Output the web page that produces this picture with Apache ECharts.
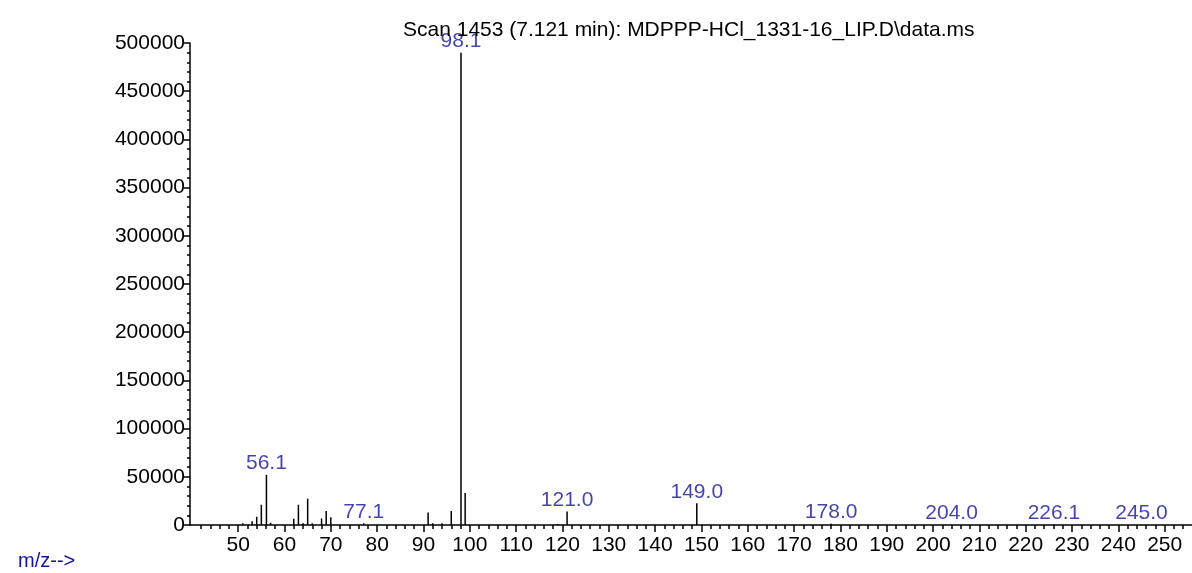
<!DOCTYPE html>
<html>
<head>
<meta charset="utf-8">
<script src="https://cdn.jsdelivr.net/npm/echarts@6/dist/echarts.min.js"></script>
<style>
html,body{margin:0;padding:0;background:#fff;}
#main{width:1192px;height:573px;}
</style>
</head>
<body>
<div id="main"></div>
<script>
// m/z of each peak and its abundance
const mzValues = [51, 53, 54, 55, 56.1, 57, 62, 63, 64, 65, 66, 68, 69, 70, 77.1, 91, 92, 94, 96, 98.1, 99, 119, 121.0, 149.0, 178.0, 204.0, 226.1, 245.0];
const abundance = [1700, 3800, 8500, 21000, 52000, 2400, 6500, 21000, 1800, 27300, 1800, 6800, 14600, 8000, 1800, 12900, 1800, 1800, 14600, 490000, 33100, 1000, 13900, 22600, 1200, 400, 400, 400];
// peaks carrying an m/z annotation
const labelledMz = [56.1, 77.1, 98.1, 121.0, 149.0, 178.0, 204.0, 226.1, 245.0];
// axis tick labels
const xTickLabels = [50, 60, 70, 80, 90, 100, 110, 120, 130, 140, 150, 160, 170, 180, 190, 200, 210, 220, 230, 240, 250];
const xMinorTicks = [];
for (let v = 42; v <= 254; v += 2) xMinorTicks.push(v);
const yTickLabels = [0, 50000, 100000, 150000, 200000, 250000, 300000, 350000, 400000, 450000, 500000];

const titleText = 'Scan 1453 (7.121 min): MDPPP-HCl_1331-16_LIP.D\\data.ms';
const xAxisText = 'm/z-->';

const peaks = mzValues.map((m, i) => [m, abundance[i]]);
const labelled = peaks.filter(p => labelledMz.indexOf(p[0]) >= 0);

const FONT = 'Liberation Sans';
const FS = 21;
const BLUE = '#14149a';
const XMIN = 39.6, XMAX = 255.9;

const chart = echarts.init(document.getElementById('main'), null, {renderer: 'canvas'});
chart.setOption({
  animation: false,
  backgroundColor: '#fff',
  textStyle: {fontFamily: FONT},
  title: {
    text: titleText,
    left: 398, top: 15,
    textStyle: {fontFamily: FONT, fontSize: FS, fontWeight: 'normal', color: '#000'}
  },
  graphic: [{
    type: 'text', left: 18, top: 551,
    style: {text: xAxisText, fill: BLUE, font: '20px "' + FONT + '"'}
  }],
  grid: {left: 190, right: 0, top: 43, bottom: 48, containLabel: false},
  xAxis: [{
    type: 'value', min: XMIN, max: XMAX,
    axisLine: {show: true, lineStyle: {color: '#000', width: 1.5}},
    axisTick: {show: true, length: 7, lineStyle: {color: '#000', width: 1.5}, customValues: xTickLabels},
    axisLabel: {show: true, color: '#000', fontSize: FS, fontFamily: FONT, margin: 10, customValues: xTickLabels},
    splitLine: {show: false}
  }, {
    type: 'value', min: XMIN, max: XMAX, position: 'bottom',
    axisLine: {show: false},
    axisTick: {show: true, length: 4, lineStyle: {color: '#000', width: 1.5}, customValues: xMinorTicks},
    axisLabel: {show: false},
    splitLine: {show: false}
  }],
  yAxis: {
    type: 'value', min: 0, max: 500000, interval: 50000,
    axisLine: {show: true, lineStyle: {color: '#000', width: 1.5}},
    axisTick: {show: true, length: 6, lineStyle: {color: '#000', width: 1.5}, customValues: yTickLabels},
    minorTick: {show: true, splitNumber: 5, length: 3, lineStyle: {color: '#000', width: 1.5}},
    axisLabel: {show: true, color: '#000', fontSize: FS, fontFamily: FONT, margin: 5,
      padding: [4, 0, 0, 0],
      customValues: yTickLabels, formatter: v => String(v)},
    splitLine: {show: false}
  },
  series: [{
    type: 'bar',
    xAxisIndex: 0,
    data: peaks,
    barWidth: 1.5,
    itemStyle: {color: '#000'},
    silent: true
  }, {
    type: 'scatter',
    xAxisIndex: 0,
    data: labelled,
    symbolSize: 0,
    label: {
      show: true, position: 'top', distance: 1,
      formatter: p => p.value[0].toFixed(1),
      color: BLUE, fontSize: FS, fontFamily: FONT
    },
    silent: true
  }]
});
</script>
</body>
</html>
